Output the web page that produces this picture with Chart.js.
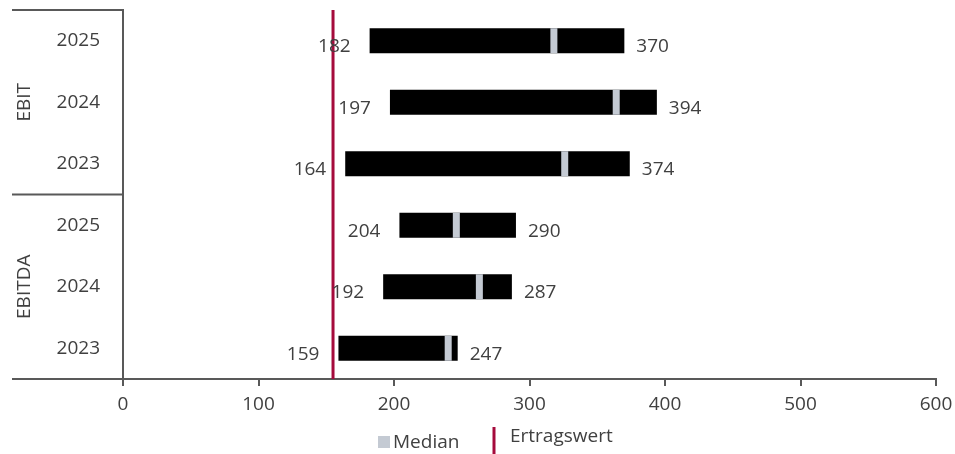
<!DOCTYPE html>
<html>
<head>
<meta charset="utf-8">
<script src="https://cdn.jsdelivr.net/npm/chart.js@4"></script>
<style>
html,body{margin:0;padding:0;background:#fff;}
#wrap{width:955px;height:454px;position:relative;}
</style>
</head>
<body>
<div id="wrap"><canvas id="c"></canvas></div>
<script>
// rows top to bottom
const years  = ['2025','2024','2023','2025','2024','2023'];
const groups = ['EBIT','EBIT','EBIT','EBITDA','EBITDA','EBITDA'];
const lows    = [182,197,164,204,192,159];
const highs   = [370,394,374,290,287,247];
const medians = [318,364,326,246,263,240];
const ertragswert = 155;
const xTicks = [0,100,200,300,400,500,600];

const TXT='#404040', AX='#595959', RED='#A50B3C', MED='#C4CAD3';
const FONT="'Open Sans', 'Liberation Sans', sans-serif";
Chart.defaults.font.family=FONT;
Chart.defaults.font.size=19;
Chart.defaults.color=TXT;

// red vertical line, value labels, group labels, legend
const extras={
  id:'extras',
  afterDatasetsDraw(chart){
    const {ctx,chartArea:a,scales:{x,y}}=chart;
    ctx.save();
    // Ertragswert line
    const ex=x.getPixelForValue(ertragswert);
    ctx.strokeStyle=RED;ctx.lineWidth=3;
    ctx.beginPath();ctx.moveTo(ex,a.top);ctx.lineTo(ex,a.bottom);ctx.stroke();

    // value labels
    ctx.font='19px '+FONT;ctx.fillStyle=TXT;ctx.textBaseline='middle';
    lows.forEach((l,i)=>{
      const yy=y.getPixelForValue(i)+6;
      ctx.textAlign='right';ctx.fillText(String(l),x.getPixelForValue(l)-19,yy);
      ctx.textAlign='left';ctx.fillText(String(highs[i]),x.getPixelForValue(highs[i])+12,yy);
    });

    // group brackets on the left
    const left=12;
    ctx.strokeStyle=AX;ctx.lineWidth=2;
    const bounds=[a.top,(y.getPixelForValue(2)+y.getPixelForValue(3))/2,a.bottom];
    bounds.forEach(b=>{ctx.beginPath();ctx.moveTo(left,b);ctx.lineTo(a.left,b);ctx.stroke();});
    const names=[...new Set(groups)];
    names.forEach((g,k)=>{
      const cy=(bounds[k]+bounds[k+1])/2;
      ctx.save();ctx.translate(25,cy);ctx.rotate(-Math.PI/2);
      ctx.textAlign='center';ctx.textBaseline='middle';ctx.fillText(g,0,0);
      ctx.restore();
    });

    // legend
    const ly=441;
    ctx.fillStyle=MED;ctx.fillRect(378,ly-5,12,12);
    ctx.fillStyle=TXT;ctx.textAlign='left';ctx.font='19px '+FONT;
    ctx.fillText('Median',393,ly+2);
    ctx.strokeStyle=RED;ctx.lineWidth=3;
    ctx.beginPath();ctx.moveTo(494,427);ctx.lineTo(494,454);ctx.stroke();
    ctx.fillStyle=TXT;ctx.fillText('Ertragswert',510,ly-4);
    ctx.restore();
  }
};

new Chart(document.getElementById('c'),{
  data:{
    labels:years,
    datasets:[
      {type:'bar',label:'Spanne',data:lows.map((l,i)=>[l,highs[i]]),
       backgroundColor:'#000',borderWidth:0,categoryPercentage:1,barPercentage:0.41,order:2},
      {type:'line',label:'Median',data:medians.map((m,i)=>({x:m,y:i})),
       showLine:false,pointStyle:'line',rotation:90,radius:12.5,hoverRadius:12.5,
       borderColor:MED,borderWidth:7,hoverBorderWidth:7,order:1}
    ]
  },
  options:{
    indexAxis:'y',
    responsive:true,maintainAspectRatio:false,animation:false,
    layout:{autoPadding:false,padding:{top:10,right:19,bottom:35,left:12}},
    plugins:{legend:{display:false},tooltip:{enabled:false}},
    scales:{
      x:{type:'linear',min:0,max:600,
         afterBuildTicks:s=>{s.ticks=xTicks.map(v=>({value:v}));},
         afterFit:s=>{s.height=40;s.paddingLeft=0;s.paddingRight=0;},
         grid:{drawOnChartArea:false,drawTicks:true,tickLength:7,color:AX,lineWidth:2},
         border:{color:AX,width:2},
         ticks:{padding:7,color:TXT}},
      y:{type:'category',
         afterFit:s=>{s.width=111;s.paddingTop=0;s.paddingBottom=0;},
         grid:{display:false},
         border:{color:AX,width:2},
         ticks:{padding:15,color:TXT}}
    }
  },
  plugins:[extras]
});
</script>
</body>
</html>
